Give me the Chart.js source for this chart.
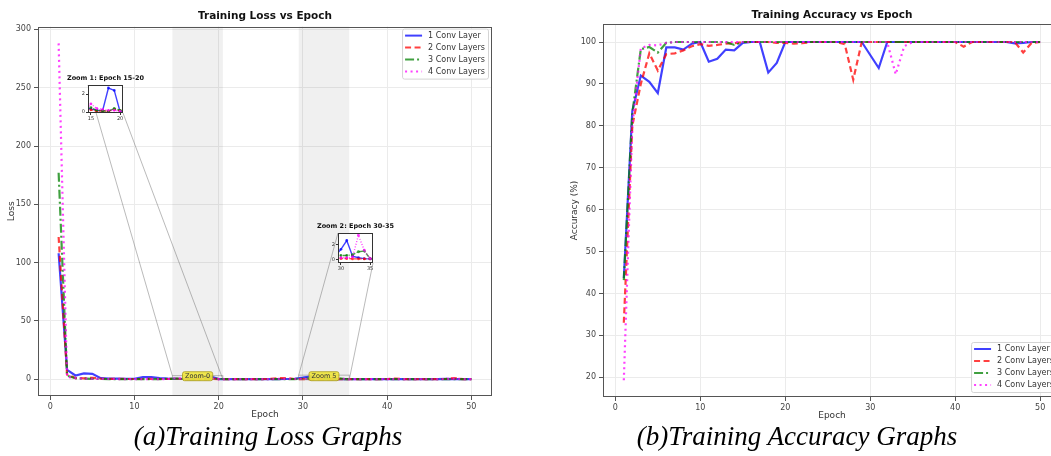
<!DOCTYPE html>
<html>
<head>
<meta charset="utf-8">
<script src="https://cdn.jsdelivr.net/npm/chart.js@4.4.1/dist/chart.umd.min.js"></script>
<style>
  html, body { margin: 0; padding: 0; background: #fff; }
  body { width: 1051px; height: 456px; overflow: hidden; position: relative; }
  canvas { position: absolute; }
  .cap { position: absolute; top: 420px; width: 400px; text-align: center; font-family: "Liberation Serif", serif; font-style: italic; font-size: 27px; line-height: 32px; color: #000; }
</style>
</head>
<body>
<canvas id="lossChart" width="520" height="425" style="left:0;top:0"></canvas>
<canvas id="zoom1" width="92" height="54" style="left:58px;top:70px"></canvas>
<canvas id="zoom2" width="92" height="56" style="left:308px;top:218px"></canvas>
<canvas id="accChart" width="540" height="425" style="left:540px;top:0"></canvas>
<div class="cap" style="left:68px">(a)Training Loss Graphs</div>
<div class="cap" style="left:597px">(b)Training Accuracy Graphs</div>
<script>
// epoch 1..50
const epochs = [1, 2, 3, 4, 5, 6, 7, 8, 9, 10, 11, 12, 13, 14, 15, 16, 17, 18, 19, 20,
  21, 22, 23, 24, 25, 26, 27, 28, 29, 30, 31, 32, 33, 34, 35, 36, 37, 38, 39, 40,
  41, 42, 43, 44, 45, 46, 47, 48, 49, 50];
const seriesNames = ['1 Conv Layer', '2 Conv Layers', '3 Conv Layers', '4 Conv Layers'];

// training loss per model
const lossConv1 = [108, 8.0, 3.2, 5.0, 4.6, 0.9, 0.5, 0.6, 0.4, 0.4,
  1.8, 1.8, 1.0, 0.5, 0.33, 0.2, 0.15, 2.67, 2.4, 0.05,
  0.1, 0.1, 0.1, 0.05, 0.05, 0.1, 0.1, 0.2, 0.4, 1.33,
  2.5, 0.4, 0.2, 0.08, 0.05, 0.05, 0.05, 0.05, 0.05, 0.05,
  0.05, 0.05, 0.05, 0.05, 0.05, 0.05, 0.3, 0.1, 0.05, 0.05];
const lossConv2 = [122, 4.0, 1.0, 0.8, 1.2, 0.5, 0.3, 0.3, 0.2, 0.2,
  0.2, 0.3, 0.2, 0.2, 0.25, 0.1, 0.15, 0.1, 0.3, 0.15,
  0.1, 0.1, 0.1, 0.1, 0.1, 0.2, 0.8, 1.0, 0.2, 0.1,
  0.1, 0.05, 0.05, 0.05, 0.05, 0.1, 0.1, 0.1, 0.1, 0.2,
  0.5, 0.1, 0.1, 0.1, 0.1, 0.1, 0.3, 0.9, 0.1, 0.05];
const lossConv3 = [177, 3.0, 0.8, 0.5, 0.3, 0.2, 0.15, 0.1, 0.1, 0.1,
  0.1, 0.1, 0.1, 0.3, 0.5, 0.2, 0.15, 0.1, 0.4, 0.2,
  0.05, 0.05, 0.05, 0.05, 0.05, 0.05, 0.05, 0.05, 0.05, 0.5,
  0.5, 0.6, 1.0, 1.1, 0.1, 0.05, 0.05, 0.05, 0.05, 0.05,
  0.05, 0.05, 0.05, 0.05, 0.05, 0.05, 0.05, 0.1, 0.05, 0.05];
const lossConv4 = [288, 2.0, 1.0, 0.5, 0.3, 0.2, 0.2, 0.15, 0.1, 0.1,
  0.1, 0.1, 0.1, 0.2, 0.9, 0.4, 0.3, 0.2, 0.2, 0.1,
  0.1, 0.1, 0.1, 0.1, 0.1, 0.1, 0.2, 0.3, 0.2, 0.2,
  0.2, 0.3, 3.2, 1.2, 0.1, 0.1, 0.1, 0.1, 0.1, 0.1,
  0.1, 0.1, 0.1, 0.1, 0.1, 0.1, 0.2, 0.5, 0.1, 0.05];

// training accuracy (%) per model
const accConv1 = [43.7, 83.5, 92.0, 90.5, 87.8, 98.7, 98.7, 98.2, 99.6, 100,
  95.3, 96.0, 98.2, 98.0, 99.8, 100, 100, 92.7, 95.0, 100,
  100, 100, 100, 100, 100, 100, 100, 100, 100, 96.9,
  93.8, 100, 100, 100, 100, 100, 100, 100, 100, 100,
  100, 100, 100, 100, 100, 100, 99.7, 99.8, 100, 100];
const accConv2 = [33.0, 80.0, 90.0, 97.3, 93.2, 97.1, 97.3, 98.0, 99.0, 99.5,
  99.1, 99.3, 99.6, 99.7, 100, 100, 100, 100, 99.8, 99.8,
  99.6, 99.7, 100, 100, 100, 100, 99.5, 91.0, 100, 100,
  100, 100, 100, 100, 100, 100, 100, 100, 100, 100,
  98.9, 100, 100, 100, 100, 100, 100, 97.5, 99.8, 100];
const accConv3 = [43.2, 83.0, 98.3, 98.8, 97.5, 99.8, 100, 100, 100, 100,
  100, 100, 100, 99.3, 100, 100, 100, 100, 100, 100,
  100, 100, 100, 100, 100, 100, 100, 100, 100, 100,
  100, 100, 100, 100, 100, 100, 100, 100, 100, 100,
  100, 100, 100, 100, 100, 100, 100, 100, 100, 100];
const accConv4 = [19.3, 80.0, 98.5, 99.3, 99.2, 99.8, 100, 100, 100, 100,
  100, 100, 100, 100, 100, 100, 100, 100, 100, 100,
  100, 100, 100, 100, 100, 100, 100, 100, 100, 100,
  100, 100, 92.3, 99.0, 100, 100, 100, 100, 100, 100,
  100, 100, 100, 100, 100, 100, 100, 100, 100, 100];

// axis ticks
const epochTicks = [0, 10, 20, 30, 40, 50];
const lossTicks = [0, 50, 100, 150, 200, 250, 300];
const accTicks = [20, 30, 40, 50, 60, 70, 80, 90, 100];

// zoomed windows of the loss chart
const zoomX = [[14.5, 20.5], [29.5, 35.5]];
const zoomY = [[-0.1, 3.0], [-0.5, 3.5]];
const zoomTickX = [[15, 20], [30, 35]];
const zoomTickY = [0, 2];
const zoomTitles = ['Zoom 1: Epoch 15-20', 'Zoom 2: Epoch 30-35'];
const zoomTags = ['Zoom-0', 'Zoom 5'];

const FONT = "'DejaVu Sans', sans-serif";
const seriesStyle = [
  { color: 'rgba(0,0,255,0.75)', dash: [] },
  { color: 'rgba(255,0,0,0.75)', dash: [6, 3.5] },
  { color: 'rgba(0,128,0,0.75)', dash: [9, 3, 2, 3] },
  { color: 'rgba(255,0,255,0.75)', dash: [2, 3.5] },
];

function makeSets(values, lw, dashScale, pointR) {
  return values.map((vals, k) => ({
    label: seriesNames[k],
    data: epochs.map((e, i) => ({ x: e, y: vals[i] })),
    borderColor: seriesStyle[k].color,
    backgroundColor: seriesStyle[k].color,
    borderWidth: lw,
    borderDash: seriesStyle[k].dash.map(d => d * dashScale),
    pointRadius: pointR,
    pointBorderWidth: 0,
    pointBackgroundColor: seriesStyle[k].color,
    tension: 0,
    fill: false,
    order: 3 - k,
  }));
}

function fixedTicks(values) {
  return scale => { scale.ticks = values.map(v => ({ value: v })); };
}

// frame round the plot area
const framePlugin = {
  id: 'frame',
  afterDraw(chart, args, opts) {
    const a = chart.chartArea, ctx = chart.ctx;
    ctx.save();
    ctx.strokeStyle = opts.color || '#555';
    ctx.lineWidth = 1;
    ctx.strokeRect(Math.round(a.left) + 0.5, Math.round(a.top) + 0.5,
      Math.round(a.width) - 1, Math.round(a.height) - 1);
    ctx.restore();
  }
};

// matplotlib-like legend with line samples
const legendPlugin = {
  id: 'lineLegend',
  afterDraw(chart, args, opts) {
    const ctx = chart.ctx, a = chart.chartArea;
    const sets = seriesNames.map((n, k) => chart.data.datasets[k]);
    ctx.save();
    ctx.font = '8px ' + FONT;
    const textW = Math.max(...sets.map(d => ctx.measureText(d.label).width));
    const rowH = 12, sample = 17, pad = 3;
    const w = pad + sample + 6 + textW + pad;
    const h = sets.length * rowH + 2;
    const x0 = a.right - 4 - w;
    const y0 = opts.corner === 'top' ? a.top + 2 : a.bottom - 5 - h;
    ctx.fillStyle = 'rgba(255,255,255,0.85)';
    ctx.strokeStyle = '#d4d4d4';
    ctx.lineWidth = 1;
    ctx.beginPath();
    ctx.roundRect(x0 + 0.5, y0 + 0.5, w, h, 2);
    ctx.fill();
    ctx.stroke();
    sets.forEach((d, i) => {
      const cy = y0 + 7 + i * rowH;
      ctx.strokeStyle = d.borderColor;
      ctx.lineWidth = 2;
      ctx.setLineDash(d.borderDash);
      ctx.beginPath();
      ctx.moveTo(x0 + pad, cy);
      ctx.lineTo(x0 + pad + sample, cy);
      ctx.stroke();
      ctx.setLineDash([]);
      ctx.fillStyle = '#333';
      ctx.textBaseline = 'middle';
      ctx.fillText(d.label, x0 + pad + sample + 6, cy);
    });
    ctx.restore();
  }
};

// grey bands behind the zoomed epochs
const bandsPlugin = {
  id: 'bands',
  beforeDatasetsDraw(chart) {
    const ctx = chart.ctx, a = chart.chartArea, xs = chart.scales.x;
    ctx.save();
    ctx.fillStyle = 'rgba(0,0,0,0.06)';
    zoomX.forEach(r => {
      const x1 = xs.getPixelForValue(r[0]), x2 = xs.getPixelForValue(r[1]);
      ctx.fillRect(x1, a.top, x2 - x1, a.height);
    });
    ctx.restore();
  }
};

// inset charts (white box, frame, title)
const insetPlugin = {
  id: 'inset',
  beforeDraw(chart) {
    const a = chart.chartArea, ctx = chart.ctx;
    ctx.save();
    ctx.fillStyle = '#fff';
    ctx.fillRect(a.left, a.top, a.width, a.height);
    ctx.restore();
  },
  afterDraw(chart, args, opts) {
    const a = chart.chartArea, ctx = chart.ctx;
    ctx.save();
    ctx.strokeStyle = '#333';
    ctx.lineWidth = 1;
    ctx.strokeRect(Math.round(a.left) + 0.5, Math.round(a.top) + 0.5,
      Math.round(a.width) - 1, Math.round(a.height) - 1);
    ctx.fillStyle = '#111';
    ctx.font = 'bold 6.5px ' + FONT;
    ctx.textAlign = 'center';
    ctx.textBaseline = 'middle';
    ctx.fillText(opts.title, (a.left + a.right) / 2, a.top - 7);
    ctx.restore();
  }
};

const insets = [];
['zoom1', 'zoom2'].forEach((id, z) => {
  const cv = document.getElementById(id);
  const tickFont = { family: FONT, size: 5 };
  insets.push(new Chart(cv, {
    type: 'line',
    data: { datasets: makeSets([lossConv1, lossConv2, lossConv3, lossConv4], 1.4, 0.5, 1.4) },
    options: {
      responsive: false, animation: false, events: [],
      layout: { padding: { left: 0, top: 15, right: cv.width - 30 - 35, bottom: 0 } },
      plugins: { legend: { display: false }, tooltip: { enabled: false }, inset: { title: zoomTitles[z] } },
      scales: {
        x: {
          type: 'linear', min: zoomX[z][0], max: zoomX[z][1],
          afterBuildTicks: fixedTicks(zoomTickX[z]),
          afterFit: s => { s.height = 11; },
          ticks: { font: tickFont, color: '#333', padding: 1, maxRotation: 0 },
          grid: { drawOnChartArea: false, tickLength: 2, tickColor: '#333' },
          border: { display: false },
        },
        y: {
          type: 'linear', min: zoomY[z][0], max: zoomY[z][1],
          afterBuildTicks: fixedTicks(zoomTickY),
          afterFit: s => { s.width = 30; },
          ticks: { font: tickFont, color: '#333', padding: 1 },
          grid: { drawOnChartArea: false, tickLength: 2, tickColor: '#333' },
          border: { display: false },
        }
      }
    },
    plugins: [insetPlugin]
  }));
});

// zoom rectangles, connectors and yellow tags on the loss chart
const zoomMarksPlugin = {
  id: 'zoomMarks',
  afterDatasetsDraw(chart) {
    const ctx = chart.ctx, xs = chart.scales.x, ys = chart.scales.y;
    const host = chart.canvas;
    ctx.save();
    ctx.strokeStyle = 'rgba(110,110,110,0.6)';
    ctx.lineWidth = 0.8;
    zoomX.forEach((r, z) => {
      const l = xs.getPixelForValue(r[0]), rr = xs.getPixelForValue(r[1]);
      const t = ys.getPixelForValue(zoomY[z][1]), b = ys.getPixelForValue(zoomY[z][0]);
      ctx.strokeRect(l, t, rr - l, b - t);
      const ic = insets[z], ia = ic.chartArea;
      const ox = ic.canvas.offsetLeft - host.offsetLeft, oy = ic.canvas.offsetTop - host.offsetTop;
      ctx.beginPath();
      ctx.moveTo(ox + ia.left, oy + ia.top);
      ctx.lineTo(l, t);
      ctx.moveTo(ox + ia.right, oy + ia.bottom);
      ctx.lineTo(rr, b);
      ctx.stroke();
    });
    ctx.font = '6.5px ' + FONT;
    ctx.textAlign = 'center';
    ctx.textBaseline = 'middle';
    zoomX.forEach((r, z) => {
      const cx = xs.getPixelForValue((r[0] + r[1]) / 2);
      const cy = ys.getPixelForValue(0) - 3;
      const w = ctx.measureText(zoomTags[z]).width + 5, h = 9;
      ctx.fillStyle = 'rgba(240,230,60,0.9)';
      ctx.strokeStyle = '#a89a20';
      ctx.lineWidth = 0.8;
      ctx.beginPath();
      ctx.roundRect(cx - w / 2, cy - h / 2, w, h, 2);
      ctx.fill();
      ctx.stroke();
      ctx.fillStyle = '#333';
      ctx.fillText(zoomTags[z], cx, cy + 0.5);
    });
    ctx.restore();
  }
};

function mainOptions(o) {
  const tickFont = { family: FONT, size: 8 };
  const titleFont = { family: FONT, size: 9 };
  return {
    responsive: false, animation: false, events: [],
    layout: { padding: { left: 0, right: o.padRight, top: 0, bottom: 0 } },
    plugins: {
      legend: { display: false }, tooltip: { enabled: false },
      title: { display: true, text: o.title, fullSize: false, color: '#111',
        font: { family: FONT, size: 10.5, weight: 'bold' }, padding: { top: o.titleTop, bottom: o.titleBottom } },
      lineLegend: { corner: o.legendCorner },
    },
    scales: {
      x: {
        type: 'linear', min: -1.45, max: 52.45,
        afterBuildTicks: fixedTicks(epochTicks),
        afterFit: s => { s.height = o.xHeight; },
        ticks: { font: tickFont, color: '#444', padding: 2, maxRotation: 0 },
        grid: { color: '#ebebeb', tickColor: '#555', tickLength: 4 },
        border: { display: false },
        title: { display: true, text: 'Epoch', color: '#333', font: titleFont, padding: { top: 0, bottom: o.xTitlePad } },
      },
      y: {
        type: 'linear', min: o.yMin, max: o.yMax,
        afterBuildTicks: fixedTicks(o.yTicks),
        afterFit: s => { s.width = o.yWidth; },
        ticks: { font: tickFont, color: '#444', padding: 3 },
        grid: { color: '#ebebeb', tickColor: '#555', tickLength: 4 },
        border: { display: false },
        title: { display: true, text: o.yTitle, color: '#333', font: titleFont, padding: { top: o.yTitlePad, bottom: 0 } },
      }
    }
  };
}

new Chart(document.getElementById('lossChart'), {
  type: 'line',
  data: { datasets: makeSets([lossConv1, lossConv2, lossConv3, lossConv4], 2.2, 1, 0) },
  options: mainOptions({
    title: 'Training Loss vs Epoch', padRight: 28, titleTop: 10, titleBottom: 4,
    xHeight: 29, xTitlePad: 4.6, yWidth: 38, yMin: -14.4, yMax: 302.4, yTicks: lossTicks,
    yTitle: 'Loss', yTitlePad: 6.6, legendCorner: 'top'
  }),
  plugins: [bandsPlugin, zoomMarksPlugin, framePlugin, legendPlugin]
});

new Chart(document.getElementById('accChart'), {
  type: 'line',
  data: { datasets: makeSets([accConv1, accConv2, accConv3, accConv4], 2.2, 1, 0) },
  options: mainOptions({
    title: 'Training Accuracy vs Epoch', padRight: 19, titleTop: 9, titleBottom: 2.4,
    xHeight: 28, xTitlePad: 3.6, yWidth: 63, yMin: 15.3, yMax: 104.3, yTicks: accTicks,
    yTitle: 'Accuracy (%)', yTitlePad: 29.6, legendCorner: 'bottom'
  }),
  plugins: [framePlugin, legendPlugin]
});
</script>
</body>
</html>
